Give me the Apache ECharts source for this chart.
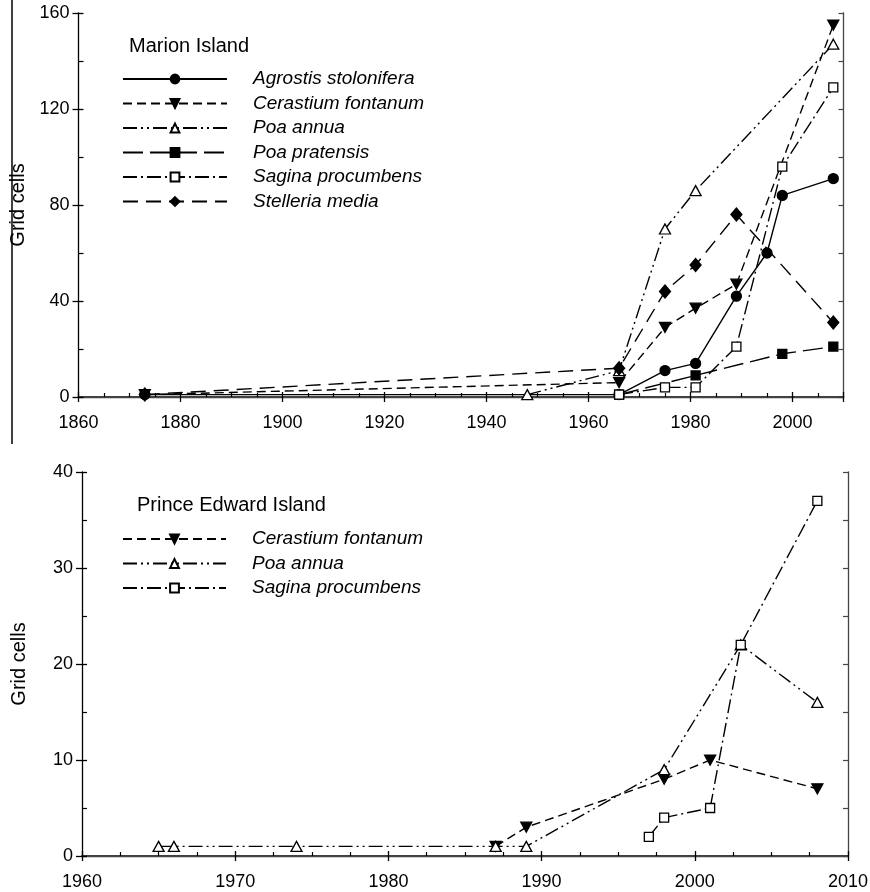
<!DOCTYPE html>
<html>
<head>
<meta charset="utf-8">
<script src="https://cdn.jsdelivr.net/npm/echarts@6/dist/echarts.min.js"></script>
<style>html,body{margin:0;padding:0;background:#fff;}#c{width:870px;height:892px;}</style>
</head>
<body>
<div id="c"></div>
<script>
// ---- Marion Island (top panel) ----
const marionNames = ['Agrostis stolonifera','Cerastium fontanum','Poa annua','Poa pratensis','Sagina procumbens','Stelleria media'];
const marionAgrostis  = [[1873,1],[1966,1],[1975,11],[1981,14],[1989,42],[1995,60],[1998,84],[2008,91]];
const marionCerastium = [[1873,1],[1966,6],[1975,29],[1981,37],[1989,47],[2008,155]];
const marionPoaAnnua  = [[1948,1],[1966,11],[1975,70],[1981,86],[2008,147]];
const marionPoaPrat   = [[1966,1],[1981,9],[1998,18],[2008,21]];
const marionSagina    = [[1966,1],[1975,4],[1981,4],[1989,21],[1998,96],[2008,129]];
const marionStelleria = [[1873,1],[1966,12],[1975,44],[1981,55],[1989,76],[2008,31]];
const marionXTicks = [1860,1880,1900,1920,1940,1960,1980,2000];
const marionYTicks = [0,40,80,120,160];

// ---- Prince Edward Island (bottom panel) ----
const peNames = ['Cerastium fontanum','Poa annua','Sagina procumbens'];
const peCerastium = [[1987,1],[1989,3],[1998,8],[2001,10],[2008,7]];
const pePoaAnnua  = [[1965,1],[1966,1],[1974,1],[1987,1],[1989,1],[1998,9],[2003,22],[2008,16]];
const peSagina    = [[1997,2],[1998,4],[2001,5],[2003,22],[2008,37]];
const peXTicks = [1960,1970,1980,1990,2000,2010];
const peYTicks = [0,10,20,30,40];

const FONT = 'Liberation Sans';
const downTri = 'path://M0,0 L10,0 L5,9 Z';

const styles = {
  'Agrostis stolonifera': {symbol:'circle', size:10, fill:'#000', dash:'solid'},
  'Cerastium fontanum':   {symbol:downTri, size:[11,10], fill:'#000', dash:[9,5]},
  'Poa annua':            {symbol:'triangle', size:[11,10], fill:'#fff', dash:[14,4,2,4,2,4]},
  'Poa pratensis':        {symbol:'rect', size:9, fill:'#000', dash:[20,7]},
  'Sagina procumbens':    {symbol:'rect', size:9, fill:'#fff', dash:[14,4,2,4]},
  'Stelleria media':      {symbol:'diamond', size:[11,13], fill:'#000', dash:[15,8]}
};

function mkSeries(name, data, xi, yi) {
  const s = styles[name];
  return {
    name: name, type: 'line', xAxisIndex: xi, yAxisIndex: yi, data: data,
    symbol: s.symbol, symbolSize: s.size, showSymbol: true,
    itemStyle: {color: s.fill, borderColor: '#000', borderWidth: 1.3},
    lineStyle: {color: '#000', width: 1.4, type: s.dash},
    emphasis: {disabled: true}, z: 3
  };
}

function axesFor(grid, xmin, xmax, xint, ymin, ymax, yint, yRightInt, xTicks, yTicks, nameGap) {
  const lab = {fontSize: 18, fontFamily: FONT, color: '#000'};
  const xs = [
    {gridIndex: grid, type: 'value', min: xmin, max: xmax, interval: xint, position: 'bottom',
     axisLine: {show: true, lineStyle: {color: '#000', width: 1.6}},
     axisTick: {show: true, inside: false, length: 5, lineStyle: {color: '#000', width: 1.3}},
     axisLabel: Object.assign({margin: 17, formatter: v => xTicks.indexOf(v) >= 0 ? String(v) : ''}, lab),
     splitLine: {show: false}},
    {gridIndex: grid, type: 'value', min: xmin, max: xmax, interval: xint, position: 'bottom',
     axisLine: {show: false}, axisLabel: {show: false}, splitLine: {show: false},
     axisTick: {show: true, inside: true, length: 5, lineStyle: {color: '#000', width: 1.3}},
     minorTick: {show: true, splitNumber: 4, length: 4, lineStyle: {color: '#000', width: 1.2}}},
    {gridIndex: grid, type: 'value', min: xmin, max: xmax, interval: xint, position: 'top',
     axisLine: {show: true, lineStyle: {color: '#444', width: 1.3}},
     axisTick: {show: false}, axisLabel: {show: false}, splitLine: {show: false}}
  ];
  const ys = [
    {gridIndex: grid, type: 'value', min: ymin, max: ymax, interval: yint, position: 'left',
     axisLine: {show: true, lineStyle: {color: '#000', width: 1.3}},
     axisTick: {show: true, inside: false, length: 6, lineStyle: {color: '#000', width: 1.3}},
     axisLabel: Object.assign({margin: 9, formatter: v => yTicks.indexOf(v) >= 0 ? String(v) : ''}, lab),
     splitLine: {show: false},
     name: 'Grid cells', nameLocation: 'middle', nameGap: nameGap, nameRotate: 90,
     nameTextStyle: {fontSize: 20, fontFamily: FONT, color: '#000'}},
    {gridIndex: grid, type: 'value', min: ymin, max: ymax, interval: yint, position: 'left',
     axisLine: {show: false}, axisLabel: {show: false}, splitLine: {show: false},
     axisTick: {show: true, inside: true, length: 5, lineStyle: {color: '#000', width: 1.3}},
     minorTick: {show: true, splitNumber: 2, length: 5, lineStyle: {color: '#000', width: 1.2}}},
    {gridIndex: grid, type: 'value', min: ymin, max: ymax, interval: yRightInt, position: 'right',
     axisLine: {show: true, lineStyle: {color: '#444', width: 1.3}},
     axisTick: {show: true, inside: true, length: 5, lineStyle: {color: '#444', width: 1.2}},
     axisLabel: {show: false}, splitLine: {show: false}}
  ];
  return {xs, ys};
}

const axTop = axesFor(0, 1860, 2010, 20, 0, 160, 40, 20, marionXTicks, marionYTicks, 50);
const axBot = axesFor(1, 1960, 2010, 10, 0, 40, 10, 5, peXTicks, peYTicks, 53);

const legendText = {fontSize: 19, fontFamily: FONT, fontStyle: 'italic', color: '#000', padding: [0,0,0,21], lineHeight: 20};

const option = {
  animation: false,
  backgroundColor: '#fff',
  title: [
    {text: 'Marion Island', left: 124, top: 31, textStyle: {fontSize: 20, fontWeight: 'normal', fontFamily: FONT, color: '#000'}},
    {text: 'Prince Edward Island', left: 132, top: 490, textStyle: {fontSize: 20, fontWeight: 'normal', fontFamily: FONT, color: '#000'}}
  ],
  grid: [
    {left: 78.5, top: 13, width: 765, height: 384, outerBoundsMode: 'none', containLabel: false},
    {left: 82, top: 472, width: 766, height: 384, outerBoundsMode: 'none', containLabel: false}
  ],
  legend: [
    {data: marionNames, orient: 'vertical', left: 117, top: 64, itemWidth: 104, itemHeight: 11, itemGap: 4.5,
     textStyle: legendText, selectedMode: false},
    {data: peNames.map(n => 'PE ' + n), orient: 'vertical', left: 117, top: 524, itemWidth: 103, itemHeight: 11, itemGap: 4.5,
     textStyle: legendText, selectedMode: false, formatter: n => n.slice(3)}
  ],
  xAxis: axTop.xs.concat(axBot.xs),
  yAxis: axTop.ys.concat(axBot.ys),
  graphic: [
    {type: 'line', shape: {x1: 12, y1: 0, x2: 12, y2: 444}, style: {stroke: '#000', lineWidth: 1.5}, z: 10}
  ],
  series: [
    mkSeries('Agrostis stolonifera', marionAgrostis, 0, 0),
    mkSeries('Cerastium fontanum', marionCerastium, 0, 0),
    mkSeries('Poa annua', marionPoaAnnua, 0, 0),
    mkSeries('Poa pratensis', marionPoaPrat, 0, 0),
    mkSeries('Sagina procumbens', marionSagina, 0, 0),
    mkSeries('Stelleria media', marionStelleria, 0, 0),
    Object.assign(mkSeries('Cerastium fontanum', peCerastium, 3, 3), {name: 'PE Cerastium fontanum'}),
    Object.assign(mkSeries('Poa annua', pePoaAnnua, 3, 3), {name: 'PE Poa annua'}),
    Object.assign(mkSeries('Sagina procumbens', peSagina, 3, 3), {name: 'PE Sagina procumbens'})
  ]
};

const chart = echarts.init(document.getElementById('c'), null, {renderer: 'canvas'});
chart.setOption(option);
</script>
</body>
</html>
